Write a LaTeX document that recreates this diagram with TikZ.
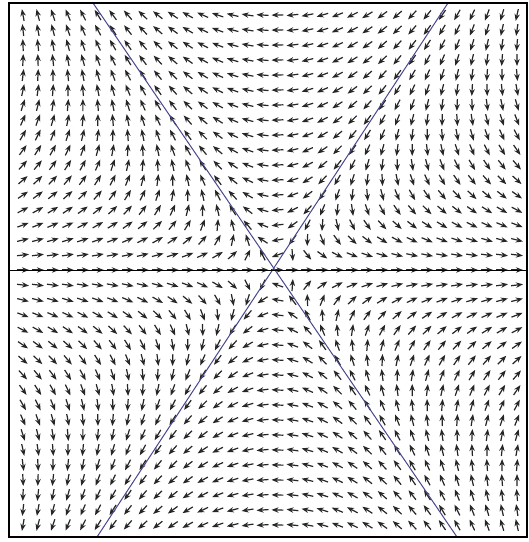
\documentclass[tikz,border=0pt]{standalone}
\usepackage{amsmath,amssymb}
\usepackage{xcolor}
\usepackage{tikz}
\usetikzlibrary{arrows.meta}
\definecolor{sepblue}{RGB}{72,72,142}

\begin{document}
\begin{tikzpicture}[x=1pt, y=-1pt]
\tikzstyle{fieldarrow}=[-{Stealth[length=7pt,width=5.4pt]}, line width=1.2pt, black!85]
\tikzstyle{sepline}=[sepblue, line width=1pt]
\tikzstyle{frame}=[line width=2pt]
\useasboundingbox (0,0) rectangle (529,542);
\fill[white] (0,0) rectangle (529,542);
% direction field of conj(z^2), arrows of equal length
\foreach \i in {0,...,33} {
  \foreach \j in {0,...,34} {
    \pgfmathsetmacro\px{23+14.97*\i}
    \pgfmathsetmacro\py{15+15*\j}
    \pgfmathsetmacro\X{(\px-274)/30}
    \pgfmathsetmacro\Y{(270-\py)/26}
    \pgfmathsetmacro\u{\X*\X-\Y*\Y}
    \pgfmathsetmacro\v{-2*\X*\Y*0.866}
    \pgfmathsetmacro\len{veclen(\u,\v)}
    \pgfmathsetmacro\ax{\px-6*\u/\len}
    \pgfmathsetmacro\ay{\py+6*\v/\len}
    \pgfmathsetmacro\bx{\px+6*\u/\len}
    \pgfmathsetmacro\by{\py-6*\v/\len}
    \draw[fieldarrow] (\ax,\ay) -- (\bx,\by);
  }
}
% invariant lines
\draw[sepline] (93,3) -- (457,537);
\draw[sepline] (448,3) -- (97,537);
\draw[line width=1pt] (9,270) -- (527,270);
\draw[frame] (9,3) rectangle (527,537);
\end{tikzpicture}
\end{document}
